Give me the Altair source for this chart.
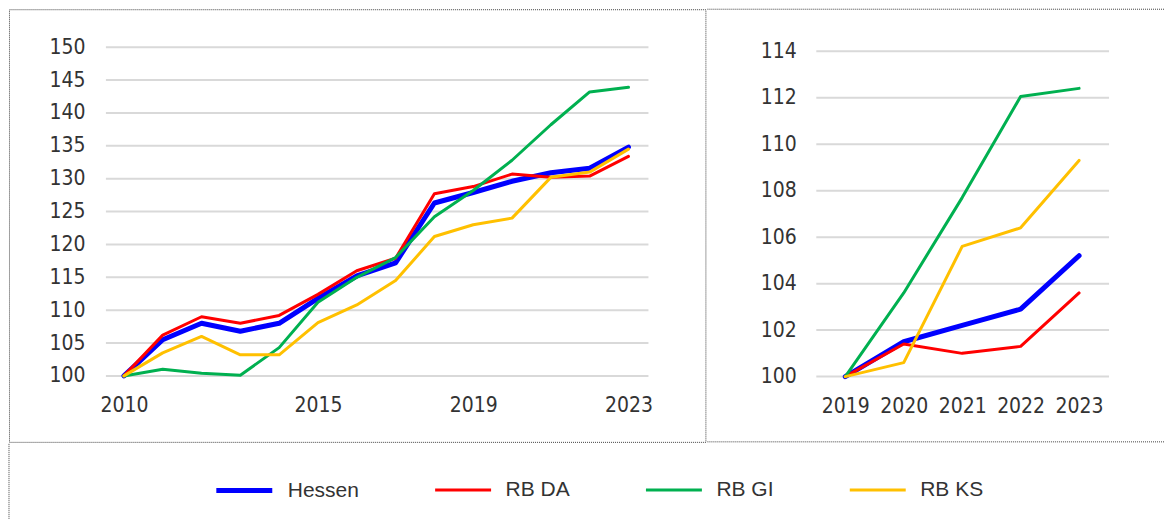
import altair as alt
import pandas as pd

series = ["Hessen", "RB DA", "RB GI", "RB KS"]
colors = ["#0000FF", "#FF0000", "#00B050", "#FFC000"]
widths = [5, 3, 3, 3]

# Left panel: 2010 = 100
years_long = list(range(2010, 2024))
hessen_long = [100, 105.5, 108.0, 106.8, 108.0, 111.8, 115.2, 117.2, 126.3, 127.9, 129.6, 130.9, 131.6, 134.8]
rbda_long = [100, 106.2, 109.0, 108.0, 109.2, 112.4, 116.0, 117.9, 127.7, 128.8, 130.7, 130.2, 130.4, 133.4]
rbgi_long = [100, 101.0, 100.4, 100.1, 104.3, 111.2, 115.0, 118.0, 124.2, 128.2, 132.8, 138.2, 143.2, 143.9]
rbks_long = [100, 103.5, 106.0, 103.2, 103.2, 108.1, 110.8, 114.5, 121.2, 123.0, 124.0, 130.2, 131.0, 134.5]
xticks_long = [2010, 2015, 2019, 2023]
yticks_long = [100, 105, 110, 115, 120, 125, 130, 135, 140, 145, 150]

# Right panel: 2019 = 100
years_short = [2019, 2020, 2021, 2022, 2023]
hessen_short = [100, 101.5, 102.2, 102.9, 105.2]
rbda_short = [100, 101.4, 101.0, 101.3, 103.6]
rbgi_short = [100, 103.6, 107.7, 112.05, 112.4]
rbks_short = [100, 100.6, 105.6, 106.4, 109.3]
yticks_short = [100, 102, 104, 106, 108, 110, 112, 114]


def to_long(years, cols):
    rows = []
    for name, vals in zip(series, cols):
        for y, v in zip(years, vals):
            rows.append({"year": y, "series": name, "value": v})
    return pd.DataFrame(rows)


df_long = to_long(years_long, [hessen_long, rbda_long, rbgi_long, rbks_long])
df_short = to_long(years_short, [hessen_short, rbda_short, rbgi_short, rbks_short])

AX_FONT = "'Liberation Sans Narrow', 'DejaVu Sans Condensed', 'Roboto Condensed', 'Liberation Sans', sans-serif"
LG_FONT = "'Liberation Sans', Arial, sans-serif"
TXT = "#333333"
DOT = "#404040"

legend = alt.Legend(
    title=None, orient="none", legendX=205, legendY=451, direction="horizontal",
    symbolType="stroke", symbolSize=3136, labelFont=LG_FONT, labelFontSize=21,
    labelColor=TXT, labelOffset=13, columnPadding=69,
)
color_enc = alt.Color("series:N", scale=alt.Scale(domain=series, range=colors), legend=legend)
sw_enc = alt.StrokeWidth("series:N", scale=alt.Scale(type="ordinal", domain=series, range=widths), legend=legend)


def border_rules(w, h, sides):
    out = []
    for s in sides:
        if s == "top":
            enc = dict(x=alt.value(0), x2=alt.value(w), y=alt.value(0))
        elif s == "bottom":
            enc = dict(x=alt.value(0), x2=alt.value(w), y=alt.value(h))
        else:
            enc = dict(x=alt.value(0), y=alt.value(0), y2=alt.value(h))
        out.append(
            alt.Chart(pd.DataFrame({"edge": [s]})).mark_rule(
                color=DOT, strokeDash=[1, 1], strokeWidth=1
            ).encode(**enc)
        )
    return out


def panel(df, years, xticks, yticks, ydom, xrange, yrange, gridx, xoff, yoff, ylabpad, w, h, view, extra):
    yscale = alt.Scale(domain=ydom, range=yrange, nice=False, zero=False)
    yaxis = alt.Axis(values=yticks, title=None, domain=False, ticks=False, grid=False,
                     offset=yoff, labelPadding=ylabpad, labelFont=AX_FONT, labelFontSize=21,
                     labelColor=TXT)
    grid = alt.Chart(pd.DataFrame({"value": yticks})).mark_rule(color="#d9d9d9", strokeWidth=2).encode(
        y=alt.Y("value:Q", scale=yscale, axis=yaxis),
        x=alt.value(gridx[0]), x2=alt.value(gridx[1]),
    )
    lines = alt.Chart(df).mark_line(strokeCap="round", strokeJoin="round").encode(
        x=alt.X("year:O", scale=alt.Scale(type="point", domain=years, range=xrange, padding=0),
                axis=alt.Axis(values=xticks, title=None, labelAngle=0, domain=False, ticks=False, grid=False,
                              offset=xoff, labelPadding=18.5, labelFont=AX_FONT, labelFontSize=21,
                              labelColor=TXT)),
        y=alt.Y("value:Q", scale=yscale, axis=yaxis),
        color=color_enc,
        strokeWidth=sw_enc,
    )
    return alt.layer(grid, lines, *extra).properties(width=w, height=h, view=view)


left = panel(df_long, years_long, xticks_long, yticks_long, [100, 150], [115, 620], [367, 38],
             [97, 640], -66, -97, 21, 697, 433,
             alt.ViewBackground(stroke=DOT, strokeDash=[1, 1], strokeWidth=1), [])
right = panel(df_short, years_short, years_short, yticks_short, [100, 114], [138, 372], [367.7, 42],
              [109, 402], -65.3, -109, 20, 458, 433,
              alt.ViewBackground(stroke="transparent"), border_rules(458, 433, ["top", "bottom"]))

bottom = alt.layer(*border_rules(1155, 76, ["left"])).properties(
    width=1155, height=76, view=alt.ViewBackground(stroke="transparent")
)

chart = alt.vconcat(alt.hconcat(left, right, spacing=0), bottom, spacing=0).properties(
    padding=0, background="white"
)

chart.save("out.html", embed_options={"renderer": "svg", "actions": False})
